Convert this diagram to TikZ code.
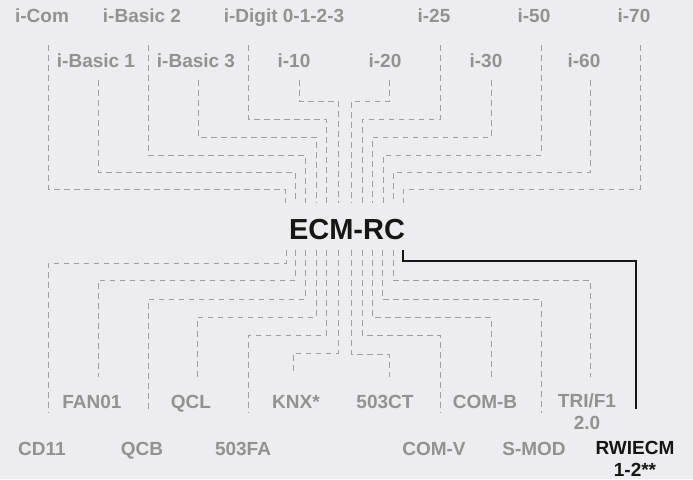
\documentclass[tikz,border=0pt]{standalone}
\usepackage{fontspec}
\setmainfont{Liberation Sans}
\definecolor{bg}{HTML}{EDEDEF}
\definecolor{lbl}{HTML}{929292}
\definecolor{ln}{HTML}{9E9E9E}
\definecolor{ink}{HTML}{161616}
\begin{document}
\begin{tikzpicture}[x=1pt,y=-1pt,
  lab/.style={anchor=base,inner sep=0pt,text=lbl,font=\fontsize{19}{22}\selectfont\bfseries,align=center},
  hub/.style={anchor=base,inner sep=0pt,text=ink,font=\fontsize{29}{30}\selectfont\bfseries},
  dline/.style={draw=ln,line width=0.9pt,dash pattern=on 5.5pt off 4.5pt},
  sline/.style={draw=ink,line width=1.1pt}]
\fill[bg] (0,0) rectangle (693,479);
\useasboundingbox (0,0) rectangle (693,479);
% top row labels
\node[lab] (icom) at (42,22) {i-Com};
\node[lab] (ibasic2) at (142,22) {i-Basic 2};
\node[lab] (idigit) at (284,22) {i-Digit 0-1-2-3};
\node[lab] (i25) at (434,22) {i-25};
\node[lab] (i50) at (534,22) {i-50};
\node[lab] (i70) at (634,22) {i-70};
% second row labels
\node[lab] (ibasic1) at (96,67) {i-Basic 1};
\node[lab] (ibasic3) at (196,67) {i-Basic 3};
\node[lab] (i10) at (294,67) {i-10};
\node[lab] (i20) at (385,67) {i-20};
\node[lab] (i30) at (486,67) {i-30};
\node[lab] (i60) at (584,67) {i-60};
% hub
\node[hub] (ecm) at (347,239) {ECM-RC};
% bottom first row
\node[lab] (fan01) at (92,408) {FAN01};
\node[lab] (qcl) at (191,408) {QCL};
\node[lab] (knx) at (296,408) {KNX*};
\node[lab] (ct503) at (385,408) {503CT};
\node[lab] (comb) at (485,408) {COM-B};
\node[lab,anchor=north] (tri) at (587,394) {TRI/F1\\2.0};
% bottom second row
\node[lab] (cd11) at (42,455) {CD11};
\node[lab] (qcb) at (142,455) {QCB};
\node[lab] (fa503) at (243,455) {503FA};
\node[lab] (comv) at (434,455) {COM-V};
\node[lab] (smod) at (534,455) {S-MOD};
\node[lab,text=ink,anchor=north] (rwiecm) at (635,441) {RWIECM\\1-2**};
% top connectors: name/x start/y start/y horizontal/x end
\foreach \n/\xs/\ys/\yh/\xe in {icom/48/45/189/285, ibasic1/98/80/172/295, ibasic2/148/45/155/305,
  ibasic3/198/80/137/316, idigit/248/45/119/326, i10/299/80/101/338,
  i20/389/80/101/351, i25/440/45/119/362, i30/491/80/137/372,
  i50/541/45/155/383, i60/590/80/172/393, i70/640/45/189/403}{
  \coordinate (\n-a) at (\xs,\ys);
  \coordinate (\n-b) at (\xe,203);
  \draw[dline] (\n-a) |- (\xe,\yh) -- (\n-b);
}
% bottom connectors: name/x start at hub/y horizontal/x end/y end
\foreach \n/\xs/\yh/\xe/\ye in {cd11/286/263/48/413, fan01/295/280/98/377, qcb/305/299/148/413,
  qcl/316/317/197/377, fa503/326/335/248/413, knx/338/353/293/375,
  ct503/351/354/389/377, comv/362/335/440/413, comb/372/317/491/377,
  smod/382/299/541/413, tri/393/280/590/377}{
  \coordinate (\n-a) at (\xs,250);
  \coordinate (\n-b) at (\xe,\ye);
  \draw[dline] (\n-a) |- (\xe,\yh) -- (\n-b);
}
\coordinate (rw-a) at (403,250);
\coordinate (rw-b) at (636,409);
\draw[sline] (rw-a) |- (636,261) -- (rw-b);
\end{tikzpicture}
\end{document}
